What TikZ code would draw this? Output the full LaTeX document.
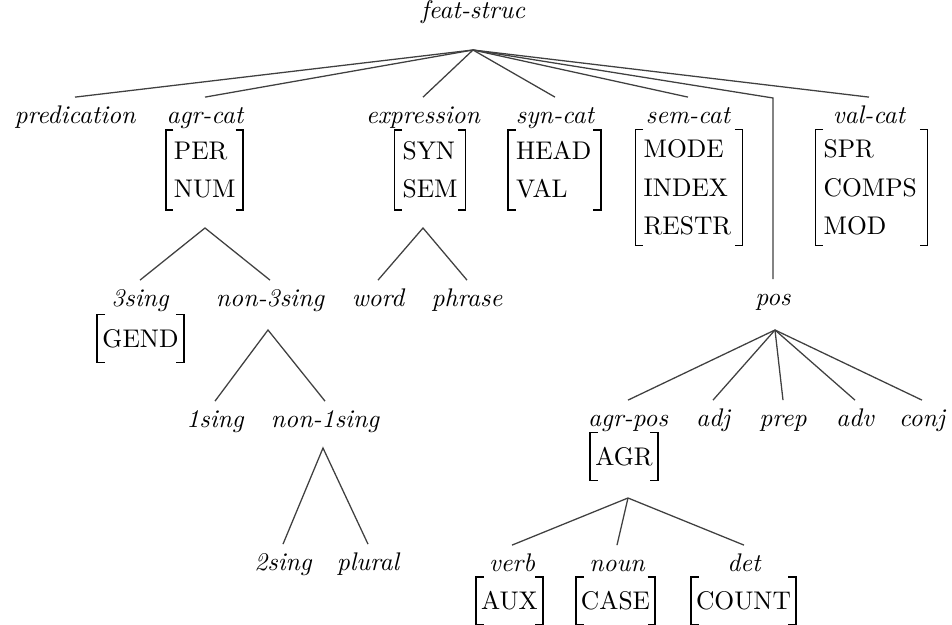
\documentclass[tikz,border=0pt]{standalone}
\tikzset{
  lab/.style={font=\itshape, anchor=base, text height=7pt, text depth=2pt},
  avm/.style={inner xsep=3pt, inner ysep=0pt, align=left},
  avmone/.style={inner xsep=1.8pt, inner ysep=0pt, minimum height=18.4pt},
  branch/.style={black!75, line width=0.5pt},
  bracket/.style={line width=0.7pt}
}
\begin{document}
\begin{tikzpicture}[x=0.392pt, y=-0.392pt]
\useasboundingbox (0,0) rectangle (952,625);
% top level
\node[lab] (featstruc) at (473,19) {feat-struc};
\coordinate (rootfork) at (473,50);
\node[lab] (predication) at (75,124) {predication};
\node[lab] (agrcat) at (205,124) {agr-cat};
\node[lab] (expression) at (423,124) {expression};
\node[lab] (syncat) at (555,124) {syn-cat};
\node[lab] (semcat) at (688,124) {sem-cat};
\node[lab] (valcat) at (869,124) {val-cat};
\node[avm, text width=24pt, minimum height=31pt] (agrcatavm) at (204.5,170) {PER\\[3pt]NUM};
\node[avm, text width=21.5pt, minimum height=31pt] (expravm) at (430,170) {SYN\\[3pt]SEM};
\node[avm, text width=30pt, minimum height=31pt] (synavm) at (554.5,170) {HEAD\\[3pt]VAL};
\node[avm, text width=35.5pt, minimum height=45pt] (semavm) at (689,187.5) {MODE\\[3pt]INDEX\\[3pt]RESTR};
\node[avm, text width=37.5pt, minimum height=45pt] (valavm) at (871.5,187.5) {SPR\\[3pt]COMPS\\[3pt]MOD};
\foreach \n in {predication,agrcat,expression,syncat,semcat,valcat}
  \draw[branch] (rootfork) -- (\n.north);
% agr-cat and expression
\node[lab] (sing3) at (140,307) {3sing};
\node[lab] (non3sing) at (270,307) {non-3sing};
\node[avmone] (gendavm) at (140.5,338.5) {GEND};
\node[lab] (word) at (378,307) {word};
\node[lab] (phrase) at (467,307) {phrase};
\coordinate (agrfork) at (205,228);
\coordinate (exprfork) at (423,228);
\draw[branch] (sing3.north) -- (agrfork) -- (non3sing.north);
\draw[branch] (word.north) -- (exprfork) -- (phrase.north);
\node[lab] (sing1) at (215,428) {1sing};
\node[lab] (non1sing) at (325,428) {non-1sing};
\coordinate (non3fork) at (268,330);
\draw[branch] (sing1.north) -- (non3fork) -- (non1sing.north);
\node[lab] (sing2) at (283,571) {2sing};
\node[lab] (plural) at (368,571) {plural};
\coordinate (non1fork) at (323,448);
\draw[branch] (sing2.north) -- (non1fork) -- (plural.north);
% pos
\node[lab] (pos) at (773,306) {pos};
\coordinate (posbend) at (773,98);
\draw[branch] (rootfork) -- (posbend) -- (pos.north);
\coordinate (posfork) at (775,330);
\node[lab] (agrpos) at (628,427) {agr-pos};
\node[lab] (adj) at (713,427) {adj};
\node[lab] (prep) at (783,427) {prep};
\node[lab] (adv) at (855,427) {adv};
\node[lab] (conj) at (922,427) {conj};
\foreach \n in {agrpos,adj,prep,adv,conj}
  \draw[branch] (posfork) -- (\n.north);
\node[avmone] (agravm) at (624,456.5) {AGR};
\coordinate (agrposfork) at (628,498);
\node[lab] (verb) at (512,572) {verb};
\node[lab] (noun) at (617,572) {noun};
\node[lab] (det) at (744,572) {det};
\foreach \n in {verb,noun,det}
  \draw[branch] (agrposfork) -- (\n.north);
\node[avmone] (auxavm) at (509.5,601) {AUX};
\node[avmone] (caseavm) at (615.5,601) {CASE};
\node[avmone] (countavm) at (743.5,601) {COUNT};
% brackets
\foreach \n in {agrcatavm,expravm,synavm,semavm,valavm,gendavm,agravm,auxavm,caseavm,countavm}{
  \draw[bracket] ([xshift=3pt]\n.north west) -| (\n.south west) -- ++(3pt,0);
  \draw[bracket] ([xshift=-3pt]\n.north east) -| (\n.south east) -- ++(-3pt,0);
}
\end{tikzpicture}
\end{document}
